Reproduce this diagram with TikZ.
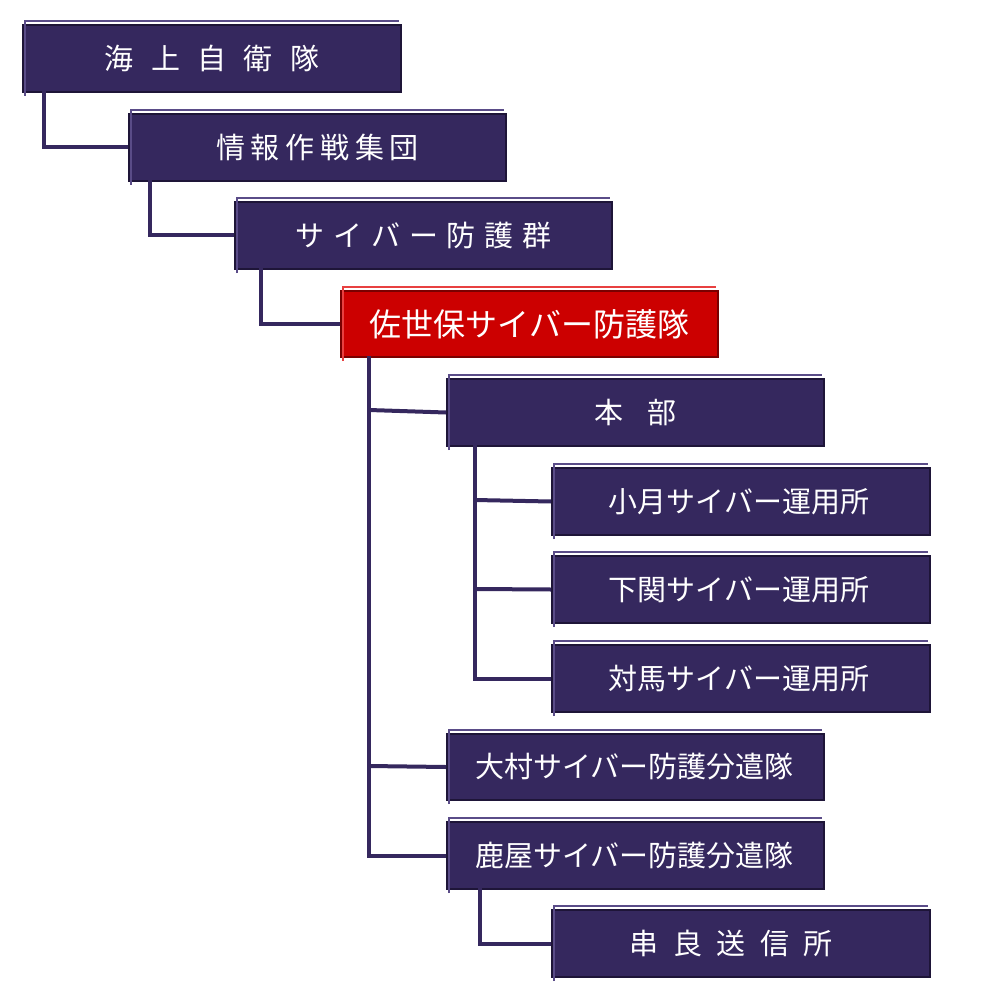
\documentclass[tikz,border=0pt]{standalone}
\usepackage{fontspec}
\newfontfamily\cjk{Noto Sans CJK JP}
\definecolor{bx}{HTML}{35285E}
\definecolor{bxl}{HTML}{5A4C88}
\definecolor{bxd}{HTML}{1E1538}
\definecolor{rd}{HTML}{CC0000}
\definecolor{rdl}{HTML}{E84040}
\definecolor{rdd}{HTML}{7A0000}
\begin{document}
\begin{tikzpicture}[x=1pt,y=-1pt,
  box/.style={draw=bxd,line width=2pt,fill=bx,text=white,font=\cjk\fontsize{29}{30}\selectfont,inner sep=0pt},
  red/.style={draw=rdd,fill=rd},
  ln/.style={draw=bx,line width=4pt}]
\useasboundingbox (0,0) rectangle (1000,1000);
\def\bx#1#2#3#4#5#6{\node[box,minimum width=#4-#2,minimum height=#5-#3,anchor=north west,#6] (#1) at (#2,#3) {};}
\bx{a}{22}{24}{400}{91}{}
\bx{b}{128}{113}{505}{180}{}
\bx{c}{234}{201}{611}{268}{}
\bx{d}{340}{290}{717}{356}{red}
\bx{e}{446}{378}{823}{445}{}
\bx{f}{551}{467}{929}{534}{}
\bx{g}{551}{555}{929}{622}{}
\bx{h}{551}{644}{929}{711}{}
\bx{i}{446}{733}{823}{799}{}
\bx{j}{446}{821}{823}{888}{}
\bx{k}{551}{909}{929}{976}{}
\foreach \n in {a,b,c,e,f,g,h,i,j,k}{\draw[bxl,line width=1.5pt] ([xshift=3pt,yshift=-3pt]\n.south west)--([xshift=3pt,yshift=3pt]\n.north west)--([xshift=-3pt,yshift=3pt]\n.north east);}
\draw[rdl,line width=1.5pt] ([xshift=3pt,yshift=-3pt]d.south west)--([xshift=3pt,yshift=3pt]d.north west)--([xshift=-3pt,yshift=3pt]d.north east);
\tikzset{t/.style={text=white,font=\cjk\fontsize{29}{30}\selectfont}}
\node[t] at (a) {海\hspace{0.6em}上\hspace{0.6em}自\hspace{0.6em}衛\hspace{0.6em}隊};
\node[t] at (b) {情\hspace{0.2em}報\hspace{0.2em}作\hspace{0.2em}戦\hspace{0.2em}集\hspace{0.2em}団};
\node[t] at (c) {サ\hspace{0.3em}イ\hspace{0.3em}バ\hspace{0.3em}ー\hspace{0.3em}防\hspace{0.3em}護\hspace{0.3em}群};
\node[t,font=\cjk\fontsize{32}{33}\selectfont] at (d) {佐世保サイバー防護隊};
\node[t] at (e) {本\hspace{0.8em}部};
\node[t] at ([xshift=-2pt]f) {小月サイバー運用所};
\node[t] at ([xshift=-2pt]g) {下関サイバー運用所};
\node[t] at ([xshift=-2pt]h) {対馬サイバー運用所};
\node[t] at ([xshift=-1pt]i) {大村サイバー防護分遣隊};
\node[t] at ([xshift=-1pt]j) {鹿屋サイバー防護分遣隊};
\node[t] at ([xshift=-10pt]k) {串\hspace{0.5em}良\hspace{0.5em}送\hspace{0.5em}信\hspace{0.5em}所};
% connectors
\begin{scope}[on background layer/.style={}]
\end{scope}
\path[ln] (a.south west-|44,0) |- (b.west);
\draw[ln] (44,91) |- (b.west);
\draw[ln] (150,180) |- (c.west);
\draw[ln] (261,268) |- (d.west);
\draw[ln] (369,356) |- (j.west);
\draw[ln] (369,410) -- (e.west);
\draw[ln] (369,766) -- (i.west);
\draw[ln] (475,445) |- (h.west);
\draw[ln] (475,500) -- (f.west);
\draw[ln] (475,589) -- (g.west);
\draw[ln] (480,888) |- (k.west);
\end{tikzpicture}
\end{document}
